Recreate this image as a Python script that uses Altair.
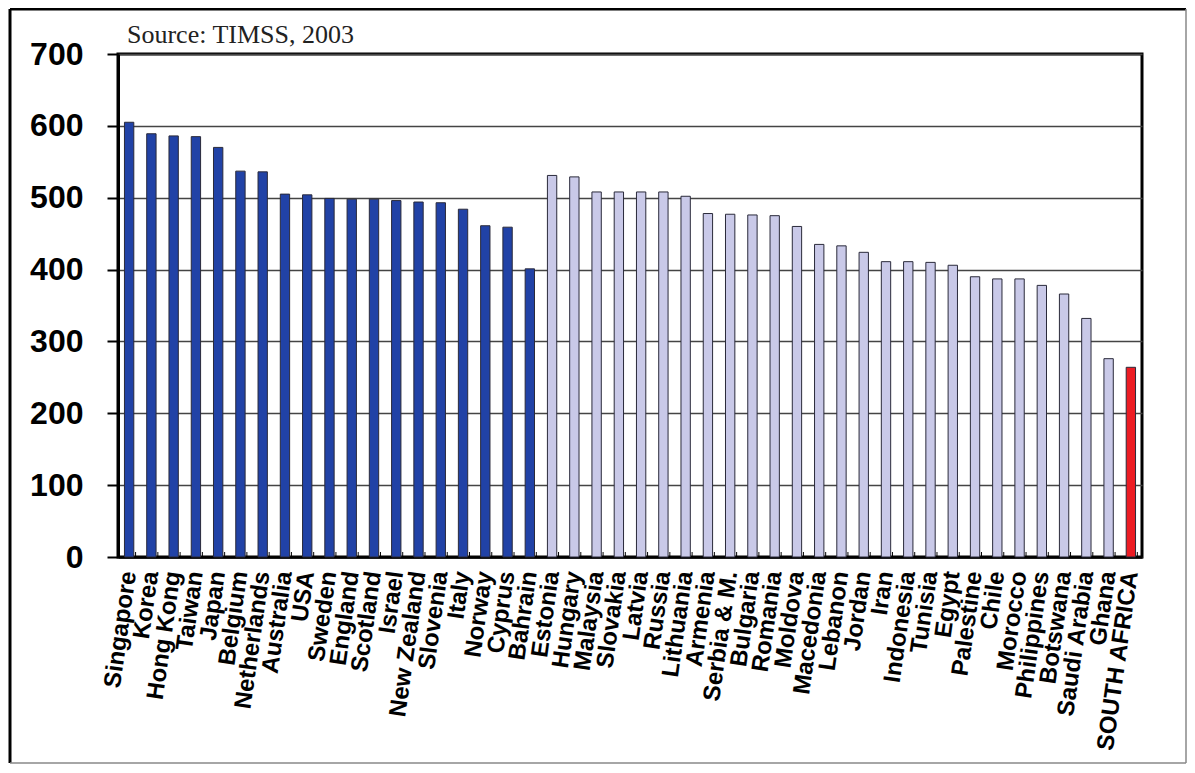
import altair as alt
import pandas as pd

countries = ["Singapore", "Korea", "Hong Kong", "Taiwan", "Japan", "Belgium", "Netherlands",
             "Australia", "USA", "Sweden", "England", "Scotland", "Israel", "New Zealand",
             "Slovenia", "Italy", "Norway", "Cyprus", "Bahrain",
             "Estonia", "Hungary", "Malaysia", "Slovakia", "Latvia", "Russia", "Lithuania",
             "Armenia", "Serbia & M.", "Bulgaria", "Romania", "Moldova", "Macedonia", "Lebanon",
             "Jordan", "Iran", "Indonesia", "Tunisia", "Egypt", "Palestine", "Chile", "Morocco",
             "Philippines", "Botswana", "Saudi Arabia", "Ghana", "SOUTH AFRICA"]
scores = [605, 589, 586, 585, 570, 537, 536,
          505, 504, 499, 498, 498, 496, 494,
          493, 484, 461, 459, 401,
          531, 529, 508, 508, 508, 508, 502,
          478, 477, 476, 475, 460, 435, 433,
          424, 411, 411, 410, 406, 390, 387, 387,
          378, 366, 332, 276, 264]
groups = ["A"] * 19 + ["B"] * 26 + ["C"]
group_names = ["A", "B", "C"]
group_colors = ["#2142a6", "#c9c9e8", "#ec1c24"]
y_ticks = [0, 100, 200, 300, 400, 500, 600, 700]
source_text = "Source: TIMSS, 2003"

df = pd.DataFrame({"Country": countries, "Score": scores, "Group": groups})

W, H = 1024, 503
step = W / len(countries)
SANS = "'Liberation Sans', Arial, sans-serif"

xenc = alt.X("Country:N", sort=countries,
             scale=alt.Scale(paddingInner=0.58, paddingOuter=0.29),
             axis=alt.Axis(title=None, labelAngle=-82, labelAlign="right", labelBaseline="middle",
                           labelFont=SANS, labelFontWeight="bold", labelFontSize=24,
                           labelColor="black", labelPadding=14, ticks=False, labelLimit=400,
                           domainColor="black", domainWidth=2.5, labelOverlap=False))

bars = alt.Chart(df).mark_bar(stroke="#2a2a3a", strokeWidth=1).encode(
    x=xenc,
    y=alt.Y("Score:Q", scale=alt.Scale(domain=[0, 700], nice=False),
            axis=alt.Axis(title=None, values=y_ticks, labelFont=SANS,
                          labelFontWeight="bold", labelFontSize=32, labelColor="black",
                          labelPadding=24, tickSize=11, tickColor="black", tickWidth=2,
                          domainColor="black", domainWidth=3, gridColor="#444444",
                          gridWidth=1.5)),
    color=alt.Color("Group:N", scale=alt.Scale(domain=group_names, range=group_colors), legend=None),
)

ticks = alt.Chart(df).mark_rule(color="black", strokeWidth=1).encode(
    x=alt.X("Country:N", sort=countries),
    xOffset=alt.value(step / 2),
    y=alt.value(H),
    y2=alt.value(H - 5),
)

src = alt.Chart(pd.DataFrame({"t": [source_text]})).mark_text(
    font="'Liberation Serif', 'Times New Roman', serif", fontSize=26, align="left",
    baseline="alphabetic", color="#222222"
).encode(x=alt.value(9), y=alt.value(-11), text="t:N")

frame_top = alt.Chart(pd.DataFrame({"a": [0]})).mark_rule(color="black", strokeWidth=3).encode(
    x=alt.value(-108), x2=alt.value(W + 44), y=alt.value(-45))
frame_left = alt.Chart(pd.DataFrame({"a": [0]})).mark_rule(color="black", strokeWidth=3).encode(
    x=alt.value(-108), y=alt.value(-45), y2=alt.value(H + 206))
frame_right = alt.Chart(pd.DataFrame({"a": [0]})).mark_rule(color="#888888", strokeWidth=1.5).encode(
    x=alt.value(W + 44), y=alt.value(-45), y2=alt.value(H + 206))
frame_bottom = alt.Chart(pd.DataFrame({"a": [0]})).mark_rule(color="#888888", strokeWidth=1.5).encode(
    x=alt.value(-108), x2=alt.value(W + 44), y=alt.value(H + 206))

chart = alt.layer(bars, ticks, src, frame_top, frame_left, frame_right, frame_bottom).properties(
    width=W, height=H,
    autosize=alt.AutoSizeParams(type="none"),
    padding={"left": 110, "top": 46, "right": 45, "bottom": 208},
    background="white",
).configure_view(stroke="black", strokeWidth=3)

chart.save("out.html", embed_options={"renderer": "svg", "actions": False})
